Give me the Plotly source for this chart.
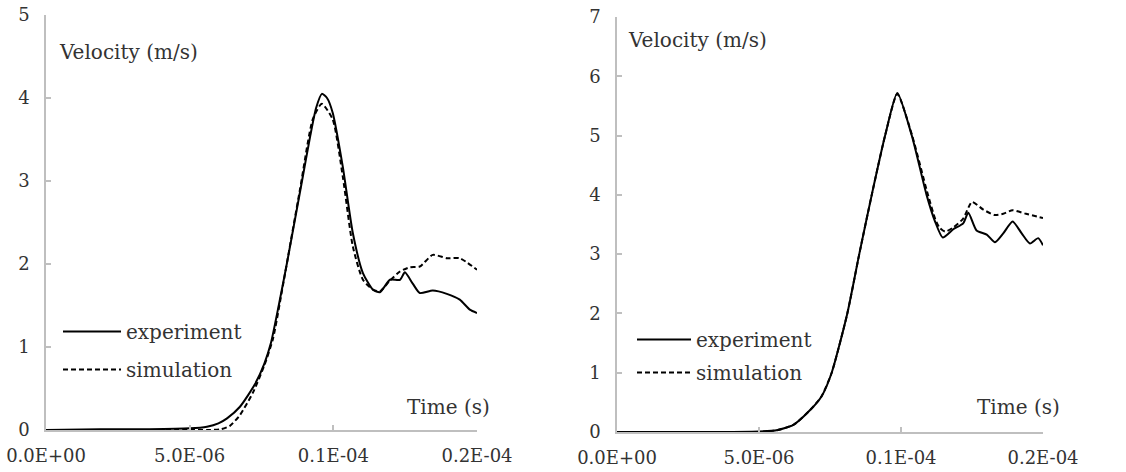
import plotly.graph_objects as go

# ---------------- data (time in seconds, velocity in m/s) ----------------
left_exp_t = [0, 1.9e-6, 3.6e-6, 5.0e-6, 5.6e-6, 6.0e-6, 6.3e-6, 6.75e-6, 7.27e-6, 7.6e-6,
              7.83e-6, 8.1e-6, 8.38e-6, 8.91e-6, 9.2e-6, 9.4e-6, 9.6e-6, 9.78e-6, 9.98e-6,
              10.33e-6, 10.68e-6, 11.03e-6, 11.38e-6, 11.62e-6, 11.97e-6, 12.32e-6, 12.49e-6,
              12.77e-6, 13.01e-6, 13.46e-6, 13.95e-6, 14.4e-6, 14.75e-6, 15.0e-6]
left_exp_v = [0.0, 0.01, 0.01, 0.02, 0.04, 0.08, 0.14, 0.28, 0.55, 0.80,
              1.05, 1.50, 2.00, 3.00, 3.55, 3.88, 4.05, 4.00, 3.82,
              3.17, 2.37, 1.89, 1.69, 1.66, 1.81, 1.81, 1.90,
              1.76, 1.65, 1.68, 1.64, 1.57, 1.45, 1.41]

left_sim_t = [0, 3.0e-6, 5.0e-6, 5.6e-6, 6.1e-6, 6.4e-6, 6.75e-6, 7.2e-6, 7.6e-6, 7.9e-6,
              8.25e-6, 8.84e-6, 9.29e-6, 9.6e-6, 9.98e-6, 10.33e-6, 10.68e-6, 11.03e-6,
              11.38e-6, 11.62e-6, 11.97e-6, 12.32e-6, 12.66e-6, 13.01e-6, 13.46e-6, 13.95e-6,
              14.4e-6, 15.0e-6]
left_sim_v = [0.0, 0.0, 0.0, 0.0, 0.01, 0.05, 0.18, 0.45, 0.78, 1.10,
              1.75, 2.90, 3.75, 3.93, 3.74, 3.05, 2.21, 1.81,
              1.69, 1.67, 1.80, 1.91, 1.96, 1.97, 2.11, 2.07,
              2.07, 1.93]

right_exp_t = [0, 3.0e-6, 5.0e-6, 5.62e-6, 6.21e-6, 6.8e-6, 7.2e-6, 7.56e-6, 8.11e-6, 8.53e-6,
               8.97e-6, 9.44e-6, 9.87e-6, 10.38e-6, 10.9e-6, 11.2e-6, 11.47e-6, 11.84e-6,
               12.19e-6, 12.37e-6, 12.66e-6, 13.02e-6, 13.31e-6, 13.6e-6, 13.93e-6, 14.25e-6,
               14.54e-6, 14.83e-6, 15.0e-6]
right_exp_v = [0.0, 0.0, 0.01, 0.03, 0.12, 0.37, 0.60, 1.00, 2.00, 3.00,
               4.00, 5.00, 5.72, 5.00, 4.00, 3.55, 3.28, 3.42,
               3.52, 3.70, 3.40, 3.33, 3.20, 3.35, 3.55, 3.35,
               3.18, 3.27, 3.15]

right_sim_t = [0, 3.0e-6, 5.0e-6, 5.62e-6, 6.21e-6, 6.8e-6, 7.2e-6, 7.56e-6, 8.11e-6, 8.53e-6,
               8.97e-6, 9.44e-6, 9.87e-6, 10.38e-6, 10.92e-6, 11.2e-6, 11.35e-6, 11.55e-6,
               11.84e-6, 12.19e-6, 12.5e-6, 12.9e-6, 13.3e-6, 13.6e-6, 13.93e-6, 14.4e-6, 15.0e-6]
right_sim_v = [0.0, 0.0, 0.0, 0.03, 0.12, 0.37, 0.60, 1.00, 2.00, 3.00,
               4.00, 5.00, 5.70, 5.02, 4.05, 3.60, 3.45, 3.38,
               3.45, 3.60, 3.88, 3.75, 3.66, 3.68, 3.74, 3.68, 3.61]

x_tickvals = [0, 5e-6, 1e-5, 1.5e-5]
x_ticktext = ["0.0E+00", "5.0E-06", "0.1E-04", "0.2E-04"]
series_names = ["experiment", "simulation"]

FONT = "DejaVu Serif"
TXT = "#333333"
AX = "#bfbfbf"

fig = go.Figure()

def add(t, v, name, dash, xa, ya, legend):
    fig.add_trace(go.Scatter(
        x=t, y=v, mode="lines", name=name, xaxis=xa, yaxis=ya, legend=legend,
        legendgroup=legend + name,
        line=dict(color="black", width=2, dash=dash, shape="spline", smoothing=0.6),
        hoverinfo="skip"))

add(left_exp_t, left_exp_v, series_names[0], "solid", "x", "y", "legend")
add(left_sim_t, left_sim_v, series_names[1], "5px,3px", "x", "y", "legend")
add(right_exp_t, right_exp_v, series_names[0], "solid", "x2", "y2", "legend2")
add(right_sim_t, right_sim_v, series_names[1], "5px,3px", "x2", "y2", "legend2")

W, H = 1126, 472

def px_x(p):
    return p / W

def px_y(p):
    return 1 - p / H

axis_common = dict(showline=True, linecolor=AX, linewidth=1.5, ticks="inside", ticklen=5,
                   tickcolor=AX, tickwidth=1.5, showgrid=False, zeroline=False,
                   automargin=False,
                   tickfont=dict(family=FONT, size=18, color=TXT))

xcommon = dict(axis_common, range=[0, 1.5e-5], tickmode="array", tickvals=x_tickvals,
               ticktext=x_ticktext, ticklabelstandoff=9)

fig.update_layout(
    width=W, height=H, margin=dict(l=0, r=0, t=0, b=0, autoexpand=False), autosize=False,
    paper_bgcolor="white", plot_bgcolor="white",
    xaxis=dict(xcommon, domain=[px_x(46), px_x(477)], anchor="y"),
    yaxis=dict(axis_common, range=[0, 5], dtick=1, domain=[px_y(430), px_y(15)], anchor="x",
               ticklabelstandoff=11),
    xaxis2=dict(xcommon, domain=[px_x(617), px_x(1043)], anchor="y2"),
    yaxis2=dict(axis_common, range=[0, 7], dtick=1, domain=[px_y(432), px_y(17)], anchor="x2",
                ticklabelstandoff=11),
    legend=dict(x=px_x(58), y=px_y(312), xanchor="left", yanchor="top", bgcolor="rgba(0,0,0,0)",
                font=dict(family=FONT, size=20, color=TXT), tracegroupgap=9, itemwidth=58),
    legend2=dict(x=px_x(632), y=px_y(320), xanchor="left", yanchor="top", bgcolor="rgba(0,0,0,0)",
                 font=dict(family=FONT, size=20, color=TXT), tracegroupgap=4, itemwidth=54),
    showlegend=True,
)

ann_font = dict(family=FONT, size=20, color=TXT)
fig.add_annotation(text="Velocity (m/s)", xref="paper", yref="paper", x=px_x(57), y=px_y(52),
                   xanchor="left", yanchor="middle", showarrow=False, font=ann_font)
fig.add_annotation(text="Velocity (m/s)", xref="paper", yref="paper", x=px_x(626), y=px_y(40),
                   xanchor="left", yanchor="middle", showarrow=False, font=ann_font)
fig.add_annotation(text="Time (s)", xref="paper", yref="paper", x=px_x(492), y=px_y(407),
                   xanchor="right", yanchor="middle", showarrow=False, font=ann_font)
fig.add_annotation(text="Time (s)", xref="paper", yref="paper", x=px_x(1062), y=px_y(407),
                   xanchor="right", yanchor="middle", showarrow=False, font=ann_font)

fig.write_html("out.html")
